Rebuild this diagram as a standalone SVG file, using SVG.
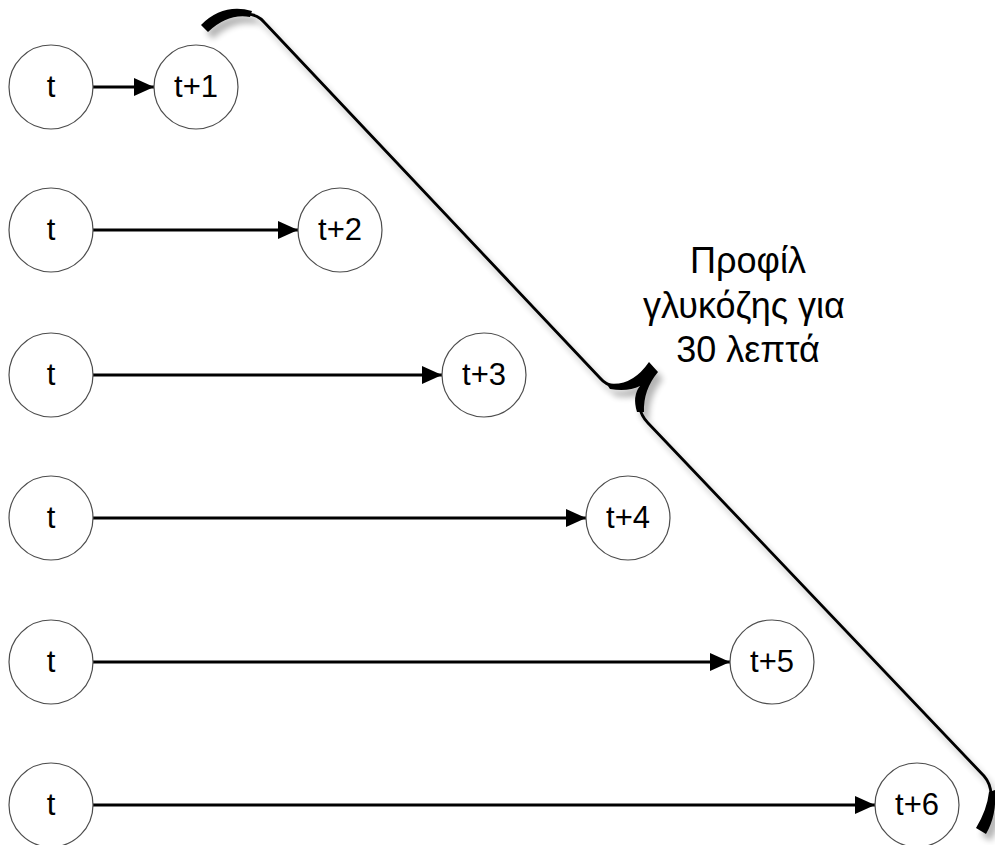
<svg xmlns="http://www.w3.org/2000/svg" width="995" height="845" viewBox="0 0 995 845">
<style>
.node circle{fill:#fff;stroke:#4d4d4d;stroke-width:1.2}
.node text{font-family:"Liberation Sans",Arial,sans-serif;font-size:31px;fill:#000;text-anchor:middle}
.conn line{stroke:#000;stroke-width:3;marker-end:url(#ah)}
.lbl{font-family:"Liberation Sans",Arial,sans-serif;font-size:36px;fill:#000;text-anchor:middle}
</style>
<defs>
<marker id="ah" markerWidth="20" markerHeight="18" refX="20" refY="9" orient="auto" markerUnits="userSpaceOnUse">
<path d="M0,0 L20,9 L0,18 Z" fill="#000"/>
</marker>
<filter id="sh" x="-10%" y="-10%" width="130%" height="130%">
<feGaussianBlur in="SourceAlpha" stdDeviation="3"/>
<feOffset dx="5" dy="7" result="b"/>
<feComponentTransfer><feFuncA type="linear" slope="0.3"/></feComponentTransfer>
<feMerge><feMergeNode/><feMergeNode in="SourceGraphic"/></feMerge>
</filter>
</defs>
<rect width="995" height="845" fill="#fff"/>

<g id="connectors" class="conn">
<line x1="93" y1="87" x2="154" y2="87"/>
<line x1="93" y1="230" x2="298" y2="230"/>
<line x1="93" y1="375" x2="442" y2="375"/>
<line x1="93" y1="518" x2="586" y2="518"/>
<line x1="93" y1="662" x2="730" y2="662"/>
<line x1="93" y1="805" x2="875" y2="805"/>
</g>

<g id="n1a" class="node"><circle cx="51" cy="87" r="42"/><text x="51" y="97">t</text></g>
<g id="n1b" class="node"><circle cx="196" cy="87" r="42"/><text x="196" y="97">t+1</text></g>
<g id="n2a" class="node"><circle cx="51" cy="230" r="42"/><text x="51" y="240">t</text></g>
<g id="n2b" class="node"><circle cx="340" cy="230" r="42"/><text x="340" y="240">t+2</text></g>
<g id="n3a" class="node"><circle cx="51" cy="375" r="42"/><text x="51" y="385">t</text></g>
<g id="n3b" class="node"><circle cx="484" cy="375" r="42"/><text x="484" y="385">t+3</text></g>
<g id="n4a" class="node"><circle cx="51" cy="518" r="42"/><text x="51" y="528">t</text></g>
<g id="n4b" class="node"><circle cx="628" cy="518" r="42"/><text x="628" y="528">t+4</text></g>
<g id="n5a" class="node"><circle cx="51" cy="662" r="42"/><text x="51" y="672">t</text></g>
<g id="n5b" class="node"><circle cx="772" cy="662" r="42"/><text x="772" y="672">t+5</text></g>
<g id="n6a" class="node"><circle cx="51" cy="805" r="42"/><text x="51" y="815">t</text></g>
<g id="n6b" class="node"><circle cx="917" cy="805" r="42"/><text x="917" y="815">t+6</text></g>

<g id="brace" filter="url(#sh)">
<path d="M248,14 Q258,15 264,22 L600,378 Q606,385 614,386" fill="none" stroke="#000" stroke-width="2.8"/>
<path d="M639,405 Q641,416 648,423 L984,776 Q991,784 991,795" fill="none" stroke="#000" stroke-width="2.8"/>
<path d="M201,25 Q223,3 252,11 L250,17 Q228,13 208,32 Z" fill="#000"/>
<path d="M606,383 Q631,388 649,362 L658,372 Q643,390 644,412 L637,412 Q632,396 640,386 Q628,392 610,389 Z" fill="#000"/>
<path d="M995,790 Q997,815 986,834 L976,828 Q987,810 989,792 Z" fill="#000"/>
</g>

<g id="label">
<text class="lbl" x="748" y="273">Προφίλ</text>
<text class="lbl" x="744" y="318">γλυκόζης για</text>
<text class="lbl" x="748" y="362">30 λεπτά</text>
</g>
</svg>
